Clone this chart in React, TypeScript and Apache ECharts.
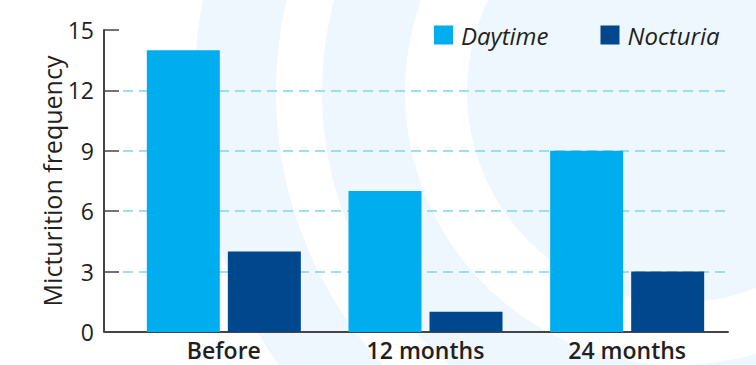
import React, { useEffect, useRef } from "react";
import * as echarts from "echarts";

const categories = ["Before", "12 months", "24 months"];
const daytime = [14, 7, 9];
const nocturia = [4, 1, 3];
const seriesNames = ["Daytime", "Nocturia"];
const yAxisName = "Micturition frequency";

const FONT = "'Open Sans', 'Noto Sans', sans-serif";
const TEXT = "#231f20";
const BG = "#eef7fd";

export default function App() {
  const ref = useRef<HTMLDivElement>(null);
  useEffect(() => {
    document.body.style.margin = "0";
    const chart = echarts.init(ref.current!, null, { renderer: "svg" });
    const cx = 678;
    const cy = 92;
    chart.setOption({
      animation: false,
      backgroundColor: "#ffffff",
      graphic: [
        { type: "ring", z: -10, silent: true, shape: { cx, cy, r: 484, r0: 402 }, style: { fill: BG } },
        { type: "ring", z: -10, silent: true, shape: { cx, cy, r: 356, r0: 273 }, style: { fill: BG } },
        { type: "circle", z: -10, silent: true, shape: { cx, cy, r: 211 }, style: { fill: BG } },
        { type: "line", z: 5, silent: true, shape: { x1: 104, y1: 332, x2: 124, y2: 332 }, style: { stroke: "#444444", lineWidth: 2 } },
      ],
      legend: {
        left: 429,
        top: 18,
        itemWidth: 19,
        itemHeight: 19,
        itemGap: 52,
        icon: "rect",
        data: seriesNames,
        textStyle: {
          color: TEXT,
          fontSize: 24,
          fontStyle: "italic",
          fontFamily: FONT,
          padding: [0, 0, 0, 3],
        },
      },
      grid: { left: 123, right: 28, top: 30, bottom: 33, containLabel: false },
      xAxis: {
        type: "category",
        data: categories,
        axisLine: { lineStyle: { color: "#444444", width: 2 } },
        axisTick: { inside: true, length: 8, lineStyle: { color: "#444444", width: 1.5 } },
        axisLabel: { color: TEXT, fontSize: 23, fontWeight: 600, fontFamily: FONT, margin: 6 },
      },
      yAxis: {
        type: "value",
        min: 0,
        max: 15,
        interval: 3,
        offset: 19,
        name: yAxisName,
        nameLocation: "middle",
        nameGap: 40,
        nameMoveOverlap: false,
        nameTextStyle: { color: TEXT, fontSize: 25, fontWeight: 500, fontFamily: FONT },
        axisLine: { show: true, lineStyle: { color: "#444444", width: 2 } },
        axisTick: { show: true, inside: true, length: 15, lineStyle: { color: "#444444", width: 1.5 } },
        axisLabel: { color: TEXT, fontSize: 23, fontWeight: 500, fontFamily: FONT, margin: 10 },
        splitLine: {
          show: true,
          showMinLine: false,
          showMaxLine: false,
          lineStyle: { color: "#80d4f6", width: 1.5, type: [10, 6] },
        },
      },
      series: [
        {
          name: seriesNames[0],
          type: "bar",
          data: daytime,
          barWidth: 73,
          barGap: "11%",
          itemStyle: { color: "#00aeef" },
        },
        {
          name: seriesNames[1],
          type: "bar",
          data: nocturia,
          barWidth: 73,
          barGap: "11%",
          itemStyle: { color: "#00478d" },
        },
      ],
    });
    return () => chart.dispose();
  }, []);
  return <div ref={ref} style={{ width: 756, height: 365 }} />;
}
